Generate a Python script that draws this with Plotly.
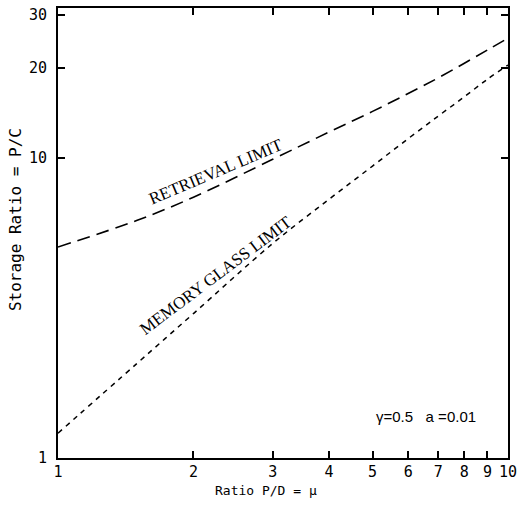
import plotly.graph_objects as go

# Data
mu = [1, 1.5, 2, 3, 4, 5, 6, 7, 8, 9, 10]
retrieval_limit = [5.05, 6.2, 7.4, 9.9, 12.2, 14.3, 16.4, 18.5, 20.7, 22.9, 25.1]
memory_glass_limit = [1.21, 2.07, 3.03, 5.19, 7.28, 9.4, 11.6, 13.8, 16.0, 18.3, 20.4]

x_ticks = [1, 2, 3, 4, 5, 6, 7, 8, 9, 10]
x_ticktext = ["1", "2", "3", "4", "5", "6", "7", "8", "9", "10"]
y_ticks = [1, 10, 20, 30]
y_ticktext = ["1", "10", "20", "30"]

fig = go.Figure()
fig.add_trace(go.Scatter(x=mu, y=retrieval_limit, mode="lines",
                         line=dict(color="black", width=1.6, dash="13px,7px"),
                         line_shape="spline", showlegend=False))
fig.add_trace(go.Scatter(x=mu, y=memory_glass_limit, mode="lines",
                         line=dict(color="black", width=1.5, dash="5px,5px"),
                         line_shape="spline", showlegend=False))

tickfont = dict(family="DejaVu Sans Mono", size=15, color="black")
fig.update_xaxes(type="log", range=[0, 1], tickvals=x_ticks, ticktext=x_ticktext,
                 ticks="inside", ticklen=7, tickwidth=1.5, tickcolor="black",
                 showline=True, linecolor="black", linewidth=2, mirror="ticks",
                 showgrid=False, zeroline=False, tickfont=tickfont, automargin=False,
                 ticklabelstandoff=-1)
fig.update_yaxes(type="log", range=[0, 1.5], tickvals=y_ticks, ticktext=y_ticktext,
                 ticks="inside", ticklen=7, tickwidth=1.5, tickcolor="black",
                 showline=True, linecolor="black", linewidth=2, mirror="ticks",
                 showgrid=False, zeroline=False, tickfont=tickfont, automargin=False,
                 ticklabelstandoff=6)

# axis titles placed as paper annotations (plot area: 58..508 x 8..458 px)
fig.add_annotation(x=0.462, y=-0.072, xref="paper", yref="paper", text="Ratio P/D = μ",
                   xanchor="center", yanchor="middle",
                   showarrow=False, font=dict(family="DejaVu Sans Mono", size=13, color="black"))
fig.add_annotation(x=-0.093, y=0.529, xref="paper", yref="paper", text="Storage Ratio = P/C",
                   xanchor="center", yanchor="middle",
                   showarrow=False, textangle=-90,
                   font=dict(family="DejaVu Sans Mono", size=16, color="black"))

fig.add_annotation(x=0.352, y=0.955, xref="x", yref="y", text="RETRIEVAL LIMIT",
                   showarrow=False, textangle=-23,
                   font=dict(family="Liberation Serif", size=17, color="black"))
fig.add_annotation(x=0.35, y=0.61, xref="x", yref="y", text="MEMORY GLASS LIMIT",
                   showarrow=False, textangle=-37,
                   font=dict(family="Liberation Serif", size=17, color="black"))
fig.add_annotation(x=0.818, y=0.137, xref="x", yref="y", text="γ=0.5   a =0.01",
                   showarrow=False,
                   font=dict(family="Liberation Sans", size=15, color="black"))

fig.update_layout(width=518, height=505, margin=dict(l=58, r=10, t=8, b=47),
                  plot_bgcolor="white", paper_bgcolor="white")

fig.write_html("out.html", config={"displayModeBar": False},
               post_script="document.body.style.margin='0';")
